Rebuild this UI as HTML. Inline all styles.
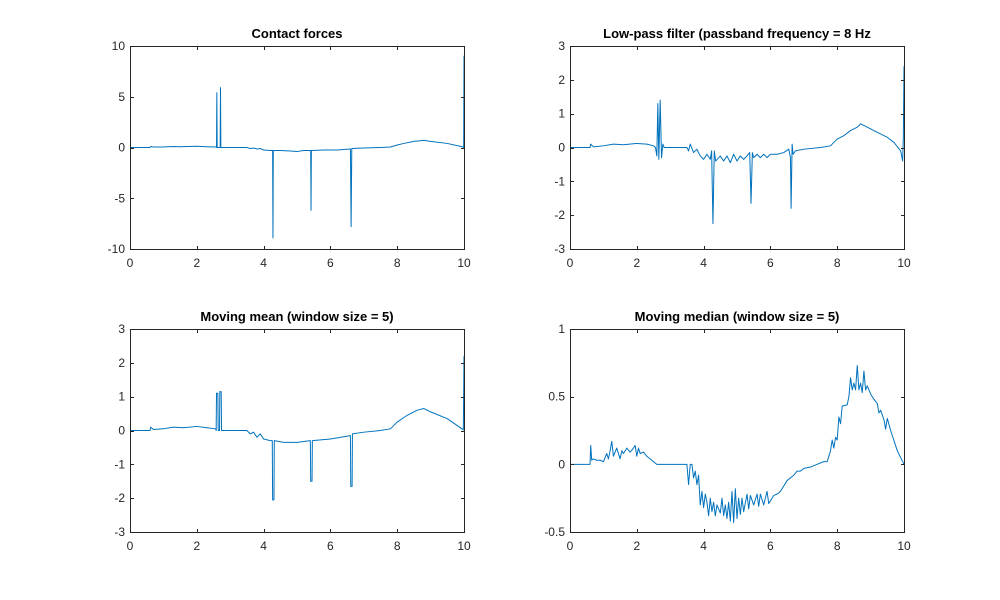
<!DOCTYPE html>
<html><head><meta charset="utf-8"><style>
body{margin:0;background:#fff;}
svg{display:block;font-family:"Liberation Sans",sans-serif;}
</style></head><body>
<svg id="fig" width="1000" height="600"></svg>
<script>
const xTicks=[0,2,4,6,8,10];
const contactTicks=[-10,-5,0,5,10];
const lowpassTicks=[-3,-2,-1,0,1,2,3];
const meanTicks=[-3,-2,-1,0,1,2,3];
const medianTicks=[-0.5,0,0.5,1];
const medianTickLabels=['-0.5','0','0.5','1'];

const contactData=[[0,0],[0.6,0],[0.62,0.1],[0.7,0.05],[1,0.05],[1.3,0.1],[1.5,0.08],[2,0.12],[2.3,0.08],[2.58,0.05],[2.59,0],[2.6,5.4],[2.61,0],[2.7,0],[2.71,5.9],[2.72,0],[3.5,0],[3.55,-0.05],[3.6,-0.1],[3.7,-0.05],[3.8,-0.15],[3.9,-0.1],[4,-0.25],[4.2,-0.3],[4.27,-0.3],[4.28,-8.9],[4.29,-0.3],[4.5,-0.3],[4.8,-0.35],[5,-0.4],[5.2,-0.3],[5.41,-0.3],[5.42,-6.2],[5.43,-0.3],[5.8,-0.25],[6.2,-0.25],[6.6,-0.15],[6.62,-7.8],[6.64,-0.1],[7,-0.05],[7.5,0],[7.8,0.05],[8,0.25],[8.2,0.4],[8.5,0.6],[8.8,0.7],[9,0.6],[9.5,0.4],[9.98,0.05],[9.99,0],[10,9.0],[10,0]];
const lowpassData=[[0,0],[0.6,0],[0.62,0.1],[0.7,0.02],[1,0.05],[1.3,0.1],[1.6,0.08],[2,0.12],[2.3,0.1],[2.5,0.05],[2.56,0],[2.6,-0.25],[2.63,1.3],[2.66,-0.35],[2.7,1.4],[2.74,-0.3],[2.78,0.1],[2.82,0],[3.5,0],[3.55,-0.1],[3.6,0.1],[3.7,-0.15],[3.8,-0.05],[3.9,-0.25],[4,-0.35],[4.1,-0.2],[4.2,-0.35],[4.24,-0.1],[4.28,-2.25],[4.32,-0.1],[4.36,-0.4],[4.5,-0.25],[4.6,-0.4],[4.7,-0.25],[4.8,-0.45],[4.9,-0.2],[5,-0.4],[5.1,-0.25],[5.2,-0.35],[5.3,-0.25],[5.38,-0.15],[5.42,-1.65],[5.46,-0.15],[5.5,-0.3],[5.6,-0.2],[5.7,-0.3],[5.8,-0.2],[5.9,-0.3],[6,-0.2],[6.2,-0.2],[6.4,-0.15],[6.55,-0.05],[6.6,-0.3],[6.62,-1.8],[6.65,0.1],[6.68,-0.2],[6.75,-0.1],[7,-0.05],[7.5,0],[7.8,0.05],[8,0.25],[8.2,0.35],[8.4,0.5],[8.6,0.6],[8.7,0.7],[8.9,0.6],[9.2,0.45],[9.5,0.3],[9.7,0.15],[9.9,-0.1],[9.96,-0.4],[9.98,0.3],[10,2.4]];
const meanData=[[0,0],[0.6,0],[0.62,0.1],[0.7,0.03],[1,0.05],[1.3,0.1],[1.6,0.08],[2,0.12],[2.3,0.08],[2.56,0.05],[2.58,0],[2.59,1.1],[2.63,1.1],[2.64,0],[2.68,0],[2.69,1.15],[2.73,1.15],[2.74,0],[3.5,0],[3.6,-0.1],[3.7,-0.05],[3.8,-0.2],[3.9,-0.1],[4,-0.25],[4.2,-0.3],[4.26,-0.3],[4.27,-2.05],[4.31,-2.05],[4.32,-0.3],[4.6,-0.35],[5,-0.35],[5.4,-0.3],[5.41,-1.5],[5.45,-1.5],[5.46,-0.3],[6,-0.25],[6.6,-0.15],[6.61,-1.65],[6.65,-1.65],[6.66,-0.1],[7,-0.05],[7.5,0],[7.8,0.05],[8,0.25],[8.3,0.45],[8.6,0.6],[8.8,0.65],[9,0.55],[9.5,0.35],[9.98,0.02],[10,2.2]];
const medianData=[[0,0],[0.6,0],[0.62,0.14],[0.65,0.03],[0.7,0.04],[0.8,0.03],[0.9,0.03],[1,0.02],[1.1,0.08],[1.15,0.04],[1.2,0.1],[1.25,0.17],[1.3,0.06],[1.4,0.12],[1.5,0.04],[1.55,0.1],[1.6,0.08],[1.7,0.12],[1.8,0.09],[1.9,0.12],[1.95,0.14],[2,0.06],[2.05,0.12],[2.1,0.08],[2.2,0.09],[2.3,0.06],[2.4,0.04],[2.5,0.02],[2.6,0],[3.5,0],[3.55,-0.15],[3.6,0],[3.65,0],[3.7,-0.1],[3.75,-0.05],[3.8,-0.15],[3.85,-0.08],[3.9,-0.3],[3.95,-0.2],[4,-0.32],[4.05,-0.22],[4.1,-0.28],[4.15,-0.38],[4.2,-0.25],[4.25,-0.35],[4.3,-0.28],[4.35,-0.38],[4.4,-0.3],[4.5,-0.36],[4.55,-0.25],[4.6,-0.38],[4.65,-0.3],[4.7,-0.4],[4.75,-0.28],[4.8,-0.42],[4.85,-0.2],[4.9,-0.43],[4.95,-0.18],[5,-0.4],[5.05,-0.25],[5.1,-0.37],[5.15,-0.25],[5.2,-0.35],[5.3,-0.22],[5.35,-0.33],[5.4,-0.23],[5.5,-0.3],[5.6,-0.22],[5.65,-0.31],[5.7,-0.22],[5.8,-0.3],[5.9,-0.2],[5.95,-0.29],[6.1,-0.23],[6.2,-0.22],[6.3,-0.2],[6.4,-0.16],[6.5,-0.12],[6.6,-0.1],[6.7,-0.08],[6.8,-0.05],[6.9,-0.05],[7,-0.03],[7.2,-0.02],[7.4,0],[7.6,0.02],[7.7,0.02],[7.8,0.1],[7.85,0.18],[7.9,0.12],[7.95,0.2],[8,0.18],[8.05,0.35],[8.1,0.3],[8.15,0.43],[8.3,0.44],[8.35,0.5],[8.4,0.64],[8.45,0.55],[8.5,0.6],[8.55,0.55],[8.6,0.73],[8.65,0.55],[8.7,0.6],[8.75,0.53],[8.8,0.69],[8.85,0.55],[8.9,0.58],[9,0.52],[9.1,0.48],[9.2,0.45],[9.25,0.38],[9.3,0.4],[9.4,0.33],[9.45,0.26],[9.5,0.34],[9.6,0.25],[9.8,0.1],[10,0]];

const NS='http://www.w3.org/2000/svg';
const svg=document.getElementById('fig');
function el(t,a,p){const e=document.createElementNS(NS,t);for(const k in a)e.setAttribute(k,a[k]);(p||svg).appendChild(e);return e;}

function panel(name,title,L,T,R,B,ymin,ymax,yt,ytl,data){
  const g=el('g',{});
  
  
  const sx=v=>L+(v-0)/(10-0)*(R-L);
  const sy=v=>B-(v-ymin)/(ymax-ymin)*(B-T);
  el('rect',{x:L,y:T,width:R-L,height:B-T,fill:'#fff'},g);
  const d=data.map((p,i)=>(i?'L':'M')+sx(p[0]).toFixed(2)+' '+sy(p[1]).toFixed(2)).join('');
  const line=el('path',{d:d,fill:'none',stroke:'#0072BD','stroke-width':1,'stroke-linejoin':'round'},g);
  
  
  const box=el('rect',{x:L+0.5,y:T+0.5,width:R-L,height:B-T,fill:'none',stroke:'#262626','stroke-width':1},g);
  
  
  xTicks.forEach(v=>{
    const x=Math.round(sx(v))+0.5;
    el('line',{x1:x,x2:x,y1:B+0.5,y2:B-3,stroke:'#262626'},g);
    el('line',{x1:x,x2:x,y1:T+0.5,y2:T+4,stroke:'#262626'},g);
    const t=el('text',{x:sx(v),y:B+18,'text-anchor':'middle','font-size':12,fill:'#262626'},g);
    t.textContent=String(v);
    
    
  });
  yt.forEach((v,i)=>{
    const y=Math.round(sy(v))+0.5;
    el('line',{x1:L+0.5,x2:L+4,y1:y,y2:y,stroke:'#262626'},g);
    el('line',{x1:R+0.5,x2:R-3,y1:y,y2:y,stroke:'#262626'},g);
    const t=el('text',{x:L-5,y:sy(v)+4,'text-anchor':'end','font-size':12,fill:'#262626'},g);
    t.textContent=ytl?ytl[i]:String(v);
    
    
  });
  const tt=el('text',{x:(L+R)/2,y:T-8,'text-anchor':'middle','font-size':13,'font-weight':'bold',fill:'#000'},g);
  tt.textContent=title;
  
  
}
panel('contact-forces-panel','Contact forces',130,46,464,249,-10,10,contactTicks,null,contactData);
panel('low-pass-panel','Low-pass filter (passband frequency = 8 Hz',570,46,904,249,-3,3,lowpassTicks,null,lowpassData);
panel('moving-mean-panel','Moving mean (window size = 5)',130,329,464,532,-3,3,meanTicks,null,meanData);
panel('moving-median-panel','Moving median (window size = 5)',570,329,904,532,-0.5,1,medianTicks,medianTickLabels,medianData);
</script>
</body></html>
